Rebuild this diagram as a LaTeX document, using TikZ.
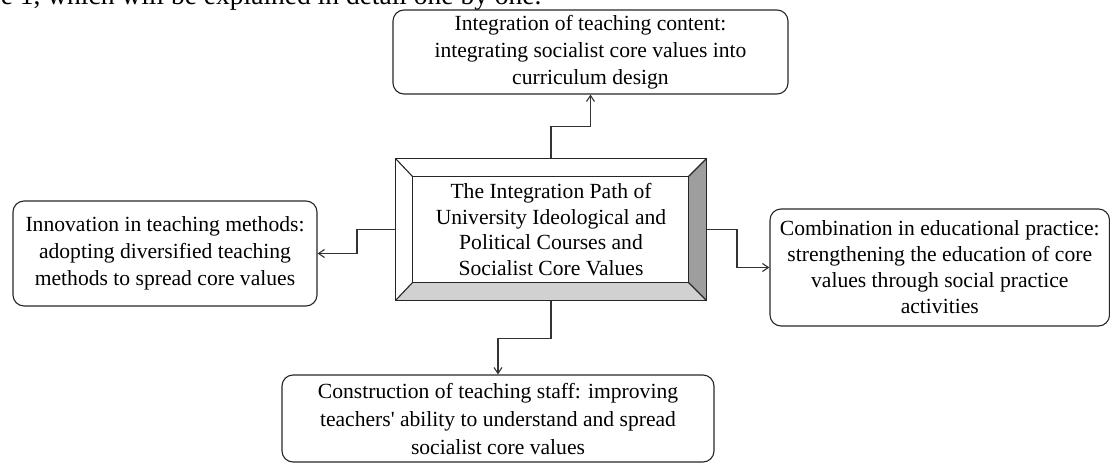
\documentclass[tikz,border=0pt]{standalone}
\usepackage{fontspec}
\setmainfont{Liberation Serif}[Ligatures=TeXOff]
\usetikzlibrary{calc,arrows.meta}
\begin{document}
\begin{tikzpicture}[x=1pt,y=-1pt,
  line width=1.1pt,
  box/.style={draw=black!85, rounded corners=11pt, align=center, inner sep=0pt,
    font=\fontsize{21.6}{27}\selectfont},
  conn/.style={draw=black!80, -{Straight Barb[length=6pt,width=8pt]}},
  bevelline/.style={draw=black!85}
]
\useasboundingbox (0,0) rectangle (1110,463);
\clip (0,0) rectangle (1110,463);

\node[anchor=base east, inner sep=0pt, font=\fontsize{27.5}{30}\selectfont] (cap) at (542,5)
  {e 1, which will be explained in detail one by one.};

\node[box, minimum width=395pt, minimum height=84pt] (top) at (590.5,52)
  {Integration of teaching content:\\integrating socialist core values into\\curriculum design};
\node[box, minimum width=304pt, minimum height=105pt] (lf) at (165,253.5)
  {Innovation in teaching methods:\\adopting diversified teaching\\methods to spread core values};
\node[box, minimum width=339.5pt, minimum height=117pt, font=\fontsize{21.6}{26}\selectfont] (rt) at (939.75,267.5)
  {Combination in educational practice:\\strengthening the education of core\\values through social practice\\activities};
\node[box, minimum width=432pt, minimum height=87pt, font=\fontsize{21.6}{28}\selectfont] (bot) at (498,418.5)
  {Construction of teaching staff: improving\\teachers' ability to understand and spread\\socialist core values};

\node[minimum width=310pt, minimum height=141pt, inner sep=0pt, align=center,
  font=\fontsize{21.6}{25.5}\selectfont] (c) at (551,229.5)
  {The Integration Path of\\University Ideological and\\Political Courses and\\Socialist Core Values};
\coordinate (i1) at ($(c.north west)+(17,18)$);
\coordinate (i2) at ($(c.north east)+(-18,18)$);
\coordinate (i3) at ($(c.south east)+(-18,-18)$);
\coordinate (i4) at ($(c.south west)+(17,-18)$);
\fill[black!18] (c.south west) -- (c.south east) -- (i3) -- (i4) -- cycle;
\fill[black!38] (c.north east) -- (c.south east) -- (i3) -- (i2) -- cycle;
\draw[bevelline] (c.north west) rectangle (c.south east);
\draw[bevelline] (i1) rectangle (i3);
\draw[bevelline] (c.north west) -- (i1) (c.north east) -- (i2)
  (c.south east) -- (i3) (c.south west) -- (i4);

\coordinate (lk) at (357,0);
\coordinate (rk) at (737,0);
\draw[conn] (c.north) -- ++(0,-32) -| (top.south);
\draw[conn] (c.west) -- (c.west -| lk) |- (lf.east);
\draw[conn] (c.east) -- (c.east -| rk) |- (rt.west);
\draw[conn] (c.south) -- ++(0,38) -| (bot.north);
\end{tikzpicture}
\end{document}
